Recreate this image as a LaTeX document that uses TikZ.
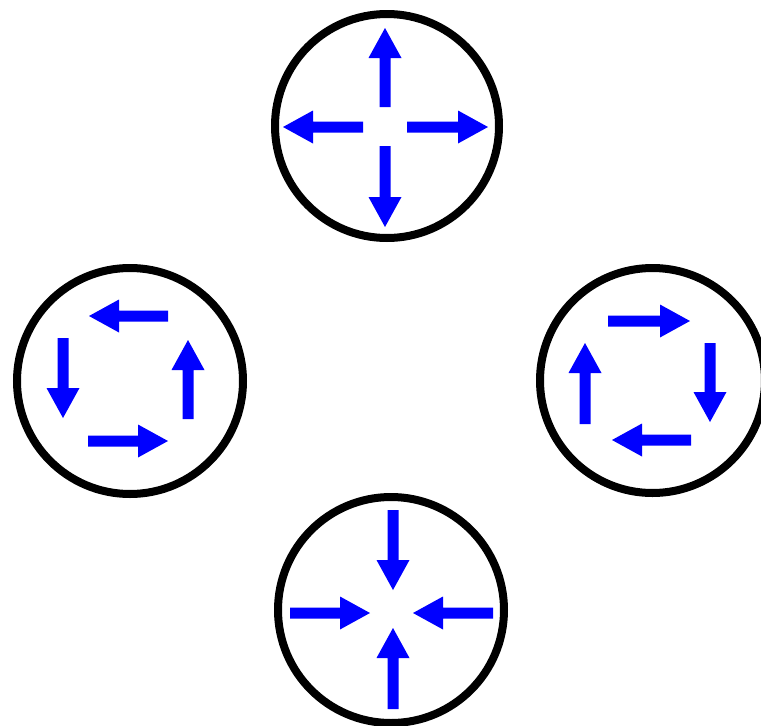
\documentclass[tikz,border=0pt]{standalone}
\usetikzlibrary{arrows.meta}
% #1,#2 start point; #3,#4 unit direction; #5 total length
\newcommand{\flowarrow}[5]{%
  \fill[flowfill]
    ({#1-(#4)*5.5},{#2+(#3)*5.5}) --
    ({#1+(#3)*(#5-30)-(#4)*5.5},{#2+(#4)*(#5-30)+(#3)*5.5}) --
    ({#1+(#3)*(#5-30)-(#4)*16.5},{#2+(#4)*(#5-30)+(#3)*16.5}) --
    ({#1+(#3)*(#5)},{#2+(#4)*(#5)}) --
    ({#1+(#3)*(#5-30)+(#4)*16.5},{#2+(#4)*(#5-30)-(#3)*16.5}) --
    ({#1+(#3)*(#5-30)+(#4)*5.5},{#2+(#4)*(#5-30)-(#3)*5.5}) --
    ({#1+(#4)*5.5},{#2-(#3)*5.5}) -- cycle;}
\begin{document}
\begin{tikzpicture}[x=1pt,y=-1pt,
  ring/.style={draw=black, line width=8pt},
  flowfill/.style={fill=blue}]
\useasboundingbox (0,0) rectangle (761,726);
% circles
\coordinate (ctop) at (387,126);
\coordinate (cleft) at (130,381);
\coordinate (cright) at (652.5,380.5);
\coordinate (cbot) at (391,610);
\draw[ring] (ctop) circle[radius=112];
\draw[ring] (cleft) circle[radius=113];
\draw[ring] (cright) circle[radius=112.5];
\draw[ring] (cbot) circle[radius=113];
% top: outward
\flowarrow{385}{107}{0}{-1}{79}
\flowarrow{385}{146}{0}{1}{81}
\flowarrow{363}{127}{-1}{0}{80}
\flowarrow{407}{127}{1}{0}{81}
% left: counter-clockwise
\flowarrow{168}{316}{-1}{0}{79}
\flowarrow{63}{338}{0}{1}{80}
\flowarrow{88}{441}{1}{0}{80}
\flowarrow{188}{419}{0}{-1}{79}
% right: clockwise
\flowarrow{608}{321}{1}{0}{82}
\flowarrow{710}{343}{0}{1}{79}
\flowarrow{691}{440}{-1}{0}{79}
\flowarrow{585}{424}{0}{-1}{81}
% bottom: inward
\flowarrow{393}{510}{0}{1}{80}
\flowarrow{290}{613}{1}{0}{80}
\flowarrow{493}{613}{-1}{0}{80}
\flowarrow{393}{709}{0}{-1}{81}
\end{tikzpicture}
\end{document}
